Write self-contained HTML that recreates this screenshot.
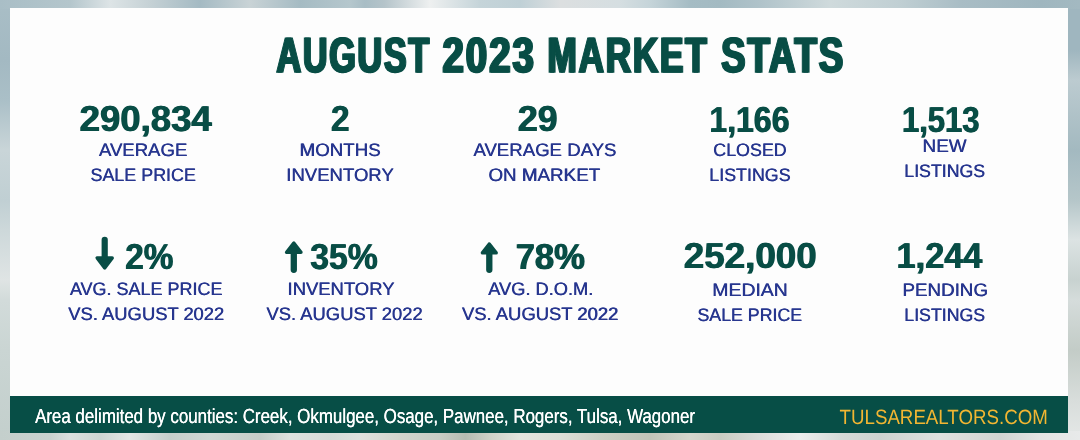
<!DOCTYPE html>
<html><head><meta charset="utf-8"><title>August 2023 Market Stats</title>
<style>
html,body{margin:0;padding:0;}
body{width:1080px;height:440px;position:relative;overflow:hidden;font-family:"Liberation Sans",sans-serif;background:#c9d4d5;}
.bg{position:absolute;}
#bt{left:0;top:0;width:1080px;height:9px;background:linear-gradient(to right,#a9bec6 0.0%, #b4c6cc 6.5%, #dde4e6 10.2%, #c5d1d5 13.9%, #a4bac3 18.5%, #c9d3d6 23.1%, #a5bbc3 27.8%, #b5c7cd 32.4%, #a8bdc5 33.8%, #b5c4ca 35.6%, #eef0f0 39.8%, #c5d4d9 44.4%, #bfd0d6 48.1%, #dcdfe0 51.9%, #d5dee1 57.4%, #c5d4d9 60.2%, #a5bcc4 63.9%, #a3bac2 66.7%, #b0c3ca 70.4%, #cfdadc 76.9%, #c0cfd3 83.3%, #a9bdc5 88.9%, #9fb6bf 96.3%, #a3b9c1 100.0%);}
#bb{left:0;top:431px;width:1080px;height:9px;background:linear-gradient(to right,#c4cfcc 0.0%, #c8d2cf 4.6%, #dbe1df 6.5%, #cdd6d2 9.3%, #e3e7e5 12.0%, #c5cfcb 15.7%, #d0d8d4 19.4%, #c5cdc8 24.1%, #dde2df 26.9%, #d6dcd8 30.6%, #dfe2de 33.3%, #d2d5cd 37.0%, #c8cdc5 40.7%, #b5bcb2 43.1%, #cfd2c8 45.4%, #e3e5de 48.1%, #dcdfd7 51.9%, #cdd0c5 55.6%, #c0c4b8 60.2%, #d5d7cd 63.9%, #c9ccc2 66.7%, #dcdedb 70.4%, #eceeed 74.1%, #d5dbd8 77.8%, #cdd3d0 81.5%, #dfe2e0 87.0%, #d0d5d2 92.6%, #e2e5e3 96.3%, #e8eaea 100.0%);}
#bl{left:0;top:0;width:11px;height:440px;background:linear-gradient(to bottom,#a9bec6 0.0%, #a3b9c2 13.6%, #aabfc7 22.7%, #c9d5d8 34.1%, #c0cfd3 45.5%, #cdd8da 52.3%, #dfe4e4 63.6%, #d2dbda 68.2%, #cad5d3 79.5%, #c3cfcc 100.0%);}
#br{left:1067px;top:0;width:13px;height:440px;background:linear-gradient(to bottom,#9fb6bf 0.0%, #9fb6bf 11.4%, #bccbd0 18.2%, #a3b9c0 34.1%, #b5c6c9 45.5%, #dce3e3 54.5%, #c8d2d0 63.6%, #d5dcdb 68.2%, #c3ccc7 79.5%, #d8dddb 90.9%, #e5e8e7 100.0%);}
#panel{position:absolute;left:10px;top:8px;width:1058.3px;height:388.3px;background:#fdfdfd;}
#bar{position:absolute;left:10px;top:396.2px;width:1058.3px;height:36.4px;background:#074e46;}
#txt{position:absolute;left:0;top:0;width:1080px;height:440px;will-change:transform;}
.t{position:absolute;left:0;top:0;white-space:nowrap;line-height:1;transform-origin:0 0;display:block;text-rendering:geometricPrecision;}
.ar{position:absolute;left:0;top:0;}
#t1::before,#t2::before,#t3::before,#t4::before{position:absolute;left:8.00px;top:0;}
#t5::before,#t6::before,#t7::before,#t8::before,#t9::before,#t10::before,#t11::before,#t12::before,#t13::before,#t14::before{position:absolute;left:4.40px;top:0;}
#t15::before,#t16::before,#t17::before,#t18::before,#t19::before,#t20::before,#t21::before,#t22::before,#t23::before,#t24::before,#t25::before,#t26::before,#t27::before,#t28::before,#t29::before,#t30::before,#t31::before,#t32::before,#t33::before,#t34::before{position:absolute;left:2.00px;top:0;}
#t35::before{position:absolute;left:0.96px;top:0;}
#t1::before{content:"AUGUST";}
#t2::before{content:"2023";}
#t3::before{content:"MARKET";}
#t4::before{content:"STATS";}
#t5::before{content:"290,834";}
#t6::before{content:"2";}
#t7::before{content:"29";}
#t8::before{content:"1,166";}
#t9::before{content:"1,513";}
#t10::before{content:"2%";}
#t11::before{content:"35%";}
#t12::before{content:"78%";}
#t13::before{content:"252,000";}
#t14::before{content:"1,244";}
#t15::before{content:"AVERAGE";}
#t16::before{content:"SALE PRICE";}
#t17::before{content:"MONTHS";}
#t18::before{content:"INVENTORY";}
#t19::before{content:"AVERAGE DAYS";}
#t20::before{content:"ON MARKET";}
#t21::before{content:"CLOSED";}
#t22::before{content:"LISTINGS";}
#t23::before{content:"NEW";}
#t24::before{content:"LISTINGS";}
#t25::before{content:"AVG. SALE PRICE";}
#t26::before{content:"VS. AUGUST 2022";}
#t27::before{content:"INVENTORY";}
#t28::before{content:"VS. AUGUST 2022";}
#t29::before{content:"AVG. D.O.M.";}
#t30::before{content:"VS. AUGUST 2022";}
#t31::before{content:"MEDIAN";}
#t32::before{content:"SALE PRICE";}
#t33::before{content:"PENDING";}
#t34::before{content:"LISTINGS";}
#t35::before{content:"Area delimited by counties: Creek, Okmulgee, Osage, Pawnee, Rogers, Tulsa, Wagoner";}
</style></head><body>
<div class="bg" id="bl"></div><div class="bg" id="br"></div><div class="bg" id="bt"></div><div class="bg" id="bb"></div>
<div id="panel"></div><div id="bar"></div>
<svg class="ar" width="1080" height="440" viewBox="0 0 1080 440"><polygon points="104.70,267.85 97.15,257.90 112.25,257.90" fill="#084d45" stroke="#084d45" stroke-width="3.40" stroke-linejoin="round"/><rect x="101.60" y="236.80" width="6.20" height="23.40" rx="3.10" fill="#084d45"/><polygon points="293.80,243.16 286.60,252.30 301.00,252.30" fill="#084d45" stroke="#084d45" stroke-width="3.40" stroke-linejoin="round"/><rect x="290.65" y="250.00" width="6.30" height="23.00" rx="3.15" fill="#084d45"/><polygon points="489.30,243.96 482.40,252.90 496.20,252.90" fill="#084d45" stroke="#084d45" stroke-width="3.40" stroke-linejoin="round"/><rect x="486.15" y="250.60" width="6.30" height="22.40" rx="3.15" fill="#084d45"/></svg>
<div id="txt">
<span class="t" id="t1" style="font-size:197.24px;font-weight:700;color:#084d45;transform:translate(275.85px,30.26px) scale(0.17253,0.25000);-webkit-text-stroke:5.20px #084d45;letter-spacing:10.40px;">AUGUST</span>
<span class="t" id="t2" style="font-size:197.24px;font-weight:700;color:#084d45;transform:translate(441.66px,30.26px) scale(0.19458,0.25000);-webkit-text-stroke:5.20px #084d45;letter-spacing:10.40px;">2023</span>
<span class="t" id="t3" style="font-size:197.24px;font-weight:700;color:#084d45;transform:translate(546.85px,30.26px) scale(0.17765,0.25000);-webkit-text-stroke:5.20px #084d45;letter-spacing:10.40px;">MARKET</span>
<span class="t" id="t4" style="font-size:197.24px;font-weight:700;color:#084d45;transform:translate(720.39px,30.26px) scale(0.18531,0.25000);-webkit-text-stroke:5.20px #084d45;letter-spacing:10.40px;">STATS</span>
<span class="t" id="t5" style="font-size:144.52px;font-weight:700;color:#084d45;transform:translate(79.12px,100.42px) scale(0.25274,0.25000);">290,834</span>
<span class="t" id="t6" style="font-size:144.52px;font-weight:700;color:#084d45;transform:translate(330.43px,100.42px) scale(0.23045,0.25000);">2</span>
<span class="t" id="t7" style="font-size:144.52px;font-weight:700;color:#084d45;transform:translate(517.35px,100.42px) scale(0.24693,0.25000);">29</span>
<span class="t" id="t8" style="font-size:144.52px;font-weight:700;color:#084d45;transform:translate(708.90px,101.42px) scale(0.22133,0.25000);">1,166</span>
<span class="t" id="t9" style="font-size:144.52px;font-weight:700;color:#084d45;transform:translate(901.46px,101.42px) scale(0.21451,0.25000);">1,513</span>
<span class="t" id="t10" style="font-size:144.52px;font-weight:700;color:#084d45;transform:translate(124.84px,238.42px) scale(0.23017,0.25000);">2%</span>
<span class="t" id="t11" style="font-size:144.52px;font-weight:700;color:#084d45;transform:translate(309.74px,238.42px) scale(0.23380,0.25000);">35%</span>
<span class="t" id="t12" style="font-size:144.52px;font-weight:700;color:#084d45;transform:translate(515.13px,238.42px) scale(0.23936,0.25000);">78%</span>
<span class="t" id="t13" style="font-size:144.52px;font-weight:700;color:#084d45;transform:translate(683.21px,237.42px) scale(0.25445,0.25000);">252,000</span>
<span class="t" id="t14" style="font-size:144.52px;font-weight:700;color:#084d45;transform:translate(896.06px,237.42px) scale(0.23716,0.25000);">1,244</span>
<span class="t" id="t15" style="font-size:72.15px;font-weight:400;color:#27368f;transform:translate(98.65px,140.73px) scale(0.25734,0.25000);">AVERAGE</span>
<span class="t" id="t16" style="font-size:72.15px;font-weight:400;color:#27368f;transform:translate(90.19px,165.73px) scale(0.24833,0.25000);">SALE PRICE</span>
<span class="t" id="t17" style="font-size:72.15px;font-weight:400;color:#27368f;transform:translate(299.36px,140.73px) scale(0.25918,0.25000);">MONTHS</span>
<span class="t" id="t18" style="font-size:72.15px;font-weight:400;color:#27368f;transform:translate(285.98px,165.73px) scale(0.25706,0.25000);">INVENTORY</span>
<span class="t" id="t19" style="font-size:72.15px;font-weight:400;color:#27368f;transform:translate(473.15px,140.73px) scale(0.25804,0.25000);">AVERAGE DAYS</span>
<span class="t" id="t20" style="font-size:72.15px;font-weight:400;color:#27368f;transform:translate(488.21px,165.73px) scale(0.26042,0.25000);">ON MARKET</span>
<span class="t" id="t21" style="font-size:72.15px;font-weight:400;color:#27368f;transform:translate(713.01px,140.73px) scale(0.24755,0.25000);">CLOSED</span>
<span class="t" id="t22" style="font-size:72.15px;font-weight:400;color:#27368f;transform:translate(709.03px,165.73px) scale(0.24734,0.25000);">LISTINGS</span>
<span class="t" id="t23" style="font-size:72.15px;font-weight:400;color:#27368f;transform:translate(922.34px,136.73px) scale(0.26135,0.25000);">NEW</span>
<span class="t" id="t24" style="font-size:72.15px;font-weight:400;color:#27368f;transform:translate(904.04px,161.73px) scale(0.24578,0.25000);">LISTINGS</span>
<span class="t" id="t25" style="font-size:72.15px;font-weight:400;color:#27368f;transform:translate(69.66px,279.73px) scale(0.24930,0.25000);">AVG. SALE PRICE</span>
<span class="t" id="t26" style="font-size:72.15px;font-weight:400;color:#27368f;transform:translate(68.11px,304.73px) scale(0.25468,0.25000);">VS. AUGUST 2022</span>
<span class="t" id="t27" style="font-size:72.15px;font-weight:400;color:#27368f;transform:translate(287.29px,279.73px) scale(0.25560,0.25000);">INVENTORY</span>
<span class="t" id="t28" style="font-size:72.15px;font-weight:400;color:#27368f;transform:translate(266.31px,304.73px) scale(0.25500,0.25000);">VS. AUGUST 2022</span>
<span class="t" id="t29" style="font-size:72.15px;font-weight:400;color:#27368f;transform:translate(487.95px,279.73px) scale(0.25311,0.25000);">AVG. D.O.M.</span>
<span class="t" id="t30" style="font-size:72.15px;font-weight:400;color:#27368f;transform:translate(461.71px,304.73px) scale(0.25550,0.25000);">VS. AUGUST 2022</span>
<span class="t" id="t31" style="font-size:72.15px;font-weight:400;color:#27368f;transform:translate(712.00px,280.73px) scale(0.26926,0.25000);">MEDIAN</span>
<span class="t" id="t32" style="font-size:72.15px;font-weight:400;color:#27368f;transform:translate(697.20px,305.73px) scale(0.24643,0.25000);">SALE PRICE</span>
<span class="t" id="t33" style="font-size:72.15px;font-weight:400;color:#27368f;transform:translate(902.35px,280.73px) scale(0.25966,0.25000);">PENDING</span>
<span class="t" id="t34" style="font-size:72.15px;font-weight:400;color:#27368f;transform:translate(904.04px,305.73px) scale(0.24578,0.25000);">LISTINGS</span>
<span class="t" id="t35" style="font-size:81.45px;font-weight:400;color:#ffffff;transform:translate(34.96px,405.76px) scale(0.20759,0.25000);">Area delimited by counties: Creek, Okmulgee, Osage, Pawnee, Rogers, Tulsa, Wagoner</span>
<span class="t" style="font-size:82.62px;font-weight:400;color:#f2b632;transform:translate(839.58px,406.52px) scale(0.22644,0.25000);">TULSAREALTORS.COM</span>
</div>
</body></html>
